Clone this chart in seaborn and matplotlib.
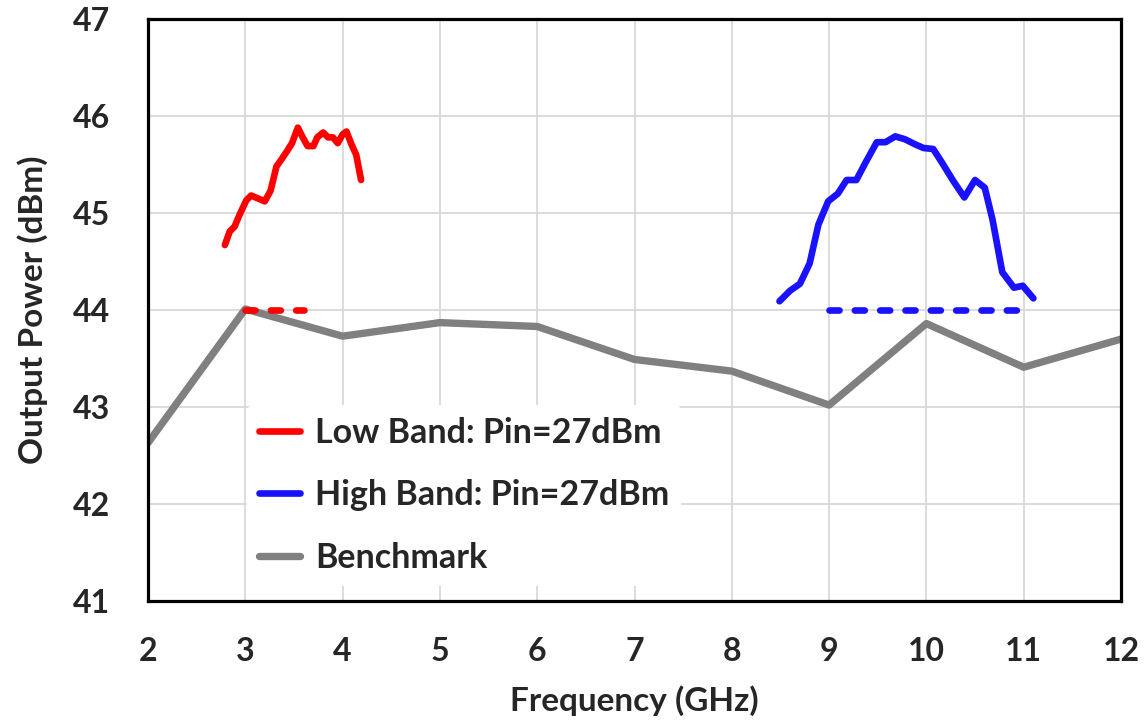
import numpy as np
import pandas as pd
import matplotlib
matplotlib.use('Agg')
import matplotlib.pyplot as plt
import seaborn as sns

# values
bench_freq = [2, 3, 4, 5, 6, 7, 8, 9, 10, 11, 12]
bench_pout = [42.63, 44.01, 43.73, 43.87, 43.83, 43.49, 43.37, 43.02, 43.86, 43.41, 43.70]

low_freq = [2.79, 2.84, 2.89, 2.94, 3.01, 3.06, 3.13, 3.20, 3.26, 3.32, 3.37, 3.43, 3.48, 3.54,
            3.59, 3.64, 3.70, 3.74, 3.80, 3.85, 3.90, 3.95, 4.00, 4.04, 4.09, 4.14, 4.19]
low_pout = [44.67, 44.81, 44.86, 44.98, 45.13, 45.18, 45.15, 45.12, 45.23, 45.48, 45.55, 45.64,
            45.72, 45.88, 45.78, 45.69, 45.69, 45.78, 45.83, 45.78, 45.78, 45.72, 45.81, 45.84,
            45.71, 45.60, 45.34]

high_freq = [8.49, 8.60, 8.70, 8.80, 8.89, 8.99, 9.09, 9.18, 9.28, 9.38, 9.49, 9.58, 9.68, 9.78,
             9.88, 9.97, 10.07, 10.16, 10.27, 10.39, 10.50, 10.60, 10.68, 10.78, 10.90, 10.99, 11.10]
high_pout = [44.09, 44.20, 44.27, 44.48, 44.88, 45.12, 45.20, 45.34, 45.34, 45.53, 45.73, 45.73,
             45.79, 45.76, 45.71, 45.67, 45.66, 45.52, 45.34, 45.16, 45.34, 45.26, 44.93, 44.39,
             44.23, 44.25, 44.12]

# 44 dBm target lines
low_spec_freq = [3.0, 3.6]
high_spec_freq = [9.0, 10.95]
spec_pout = [44.0, 44.0]

labels = ['Low Band: Pin=27dBm', 'High Band: Pin=27dBm', 'Benchmark']

sns.set_style('whitegrid')
plt.rcParams['font.family'] = ['Lato', 'DejaVu Sans']
plt.rcParams['font.weight'] = 'bold'

fig = plt.figure(figsize=(11.45, 7.23), dpi=100)
ax = fig.add_axes([148 / 1145, 1 - 601 / 723, 973 / 1145, 582 / 723])

red = '#ff0000'
blue = '#1a12ff'
gray = '#808080'
dash = (0, (1.5, 2.3))

sns.lineplot(x=bench_freq, y=bench_pout, color=gray, linewidth=5.3, ax=ax, label=labels[2],
             solid_capstyle='round', solid_joinstyle='round', zorder=2)
sns.lineplot(x=low_freq, y=low_pout, color=red, linewidth=4.8, ax=ax, label=labels[0],
             solid_capstyle='round', solid_joinstyle='round', zorder=3)
sns.lineplot(x=high_freq, y=high_pout, color=blue, linewidth=4.8, ax=ax, label=labels[1],
             solid_capstyle='round', solid_joinstyle='round', zorder=3)
sns.lineplot(x=low_spec_freq, y=spec_pout, color=red, linewidth=4.8, ax=ax, linestyle=dash,
             dash_capstyle='round', zorder=3)
sns.lineplot(x=high_spec_freq, y=spec_pout, color=blue, linewidth=4.8, ax=ax, linestyle=dash,
             dash_capstyle='round', zorder=3)

ax.set_xlim(2, 12)
ax.set_ylim(41, 47)
ax.set_xticks(range(2, 13))
ax.set_yticks(range(41, 48))
ax.grid(True, color='#d9d9d9', linewidth=1.3)
ax.set_axisbelow(True)
for s in ax.spines.values():
    s.set_color('black')
    s.set_linewidth(2.3)
ax.tick_params(axis='both', length=0, labelsize=23)
ax.tick_params(axis='x', pad=26)
ax.tick_params(axis='y', pad=27)
ax.set_xlabel('Frequency (GHz)', fontsize=24, fontweight='bold', labelpad=14)
ax.set_ylabel('Output Power (dBm)', fontsize=24, fontweight='bold', labelpad=18)

h, l = ax.get_legend_handles_labels()
order = [l.index(t) for t in labels]
leg = ax.legend([h[i] for i in order], [l[i] for i in order], loc='upper left',
                bbox_to_anchor=(0.102, 0.337), borderaxespad=0, frameon=True,
                fontsize=24.5, handlelength=1.2, handletextpad=0.45, labelspacing=0.9,
                borderpad=0.35)
leg.get_frame().set_facecolor('white')
leg.get_frame().set_edgecolor('none')
leg.get_frame().set_alpha(1)
for line in leg.get_lines():
    line.set_solid_capstyle('round')

fig.savefig('out.png', dpi=100)
